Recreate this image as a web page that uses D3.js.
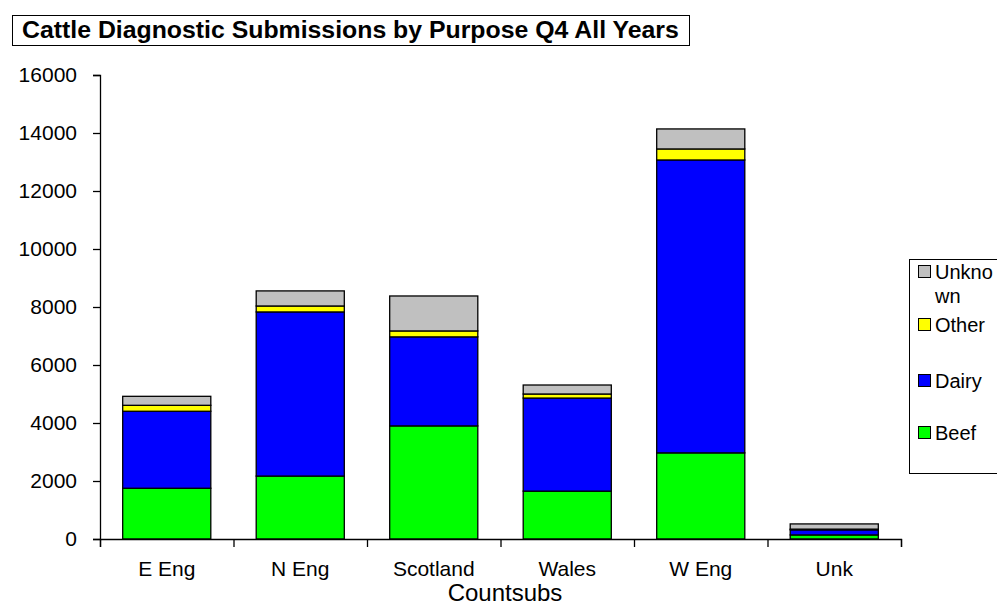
<!DOCTYPE html>
<html>
<head>
<meta charset="utf-8">
<script src="https://cdn.jsdelivr.net/npm/d3@7"></script>
<style>
  body { margin: 0; background: #fff; }
  svg { display: block; font-family: "Liberation Sans", Arial, sans-serif; }
</style>
</head>
<body>
<div id="chart"></div>
<script>
// data
const categories = ["E Eng", "N Eng", "Scotland", "Wales", "W Eng", "Unk"];
const beef    = [1750, 2170, 3900, 1650, 2970, 140];
const dairy   = [2655, 5660, 3070, 3210, 10100, 175];
const other   = [205, 205, 205, 140, 380, 25];
const unknown = [310, 520, 1205, 310, 690, 180];
const seriesNames = ["Beef", "Dairy", "Other", "Unknown"];
const seriesColors = ["#00FF00", "#0000FF", "#FFFF00", "#C0C0C0"];
const yTicks = [0, 2000, 4000, 6000, 8000, 10000, 12000, 14000, 16000];

const W = 997, H = 606;
const margin = { top: 75, right: 96, bottom: 67, left: 100 };
const width = W - margin.left - margin.right;
const height = H - margin.top - margin.bottom;

const svg = d3.select("#chart").append("svg")
    .attr("width", W)
    .attr("height", H);

// title in a box
const titleG = svg.append("g");
const titleText = titleG.append("text")
    .attr("x", 22)
    .attr("y", 38)
    .style("font-weight", "bold")
    .style("font-size", "20px")
    .text("Cattle Diagnostic Submissions by Purpose Q4 All Years");
// fit title to the box width of the original
const tw = titleText.node().getComputedTextLength();
titleText.style("font-size", (20 * 657 / tw) + "px");
titleG.insert("rect", "text")
    .attr("x", 12.5).attr("y", 15.5)
    .attr("width", 677).attr("height", 30)
    .attr("fill", "#fff")
    .attr("stroke", "#000")
    .attr("stroke-width", 1);

const g = svg.append("g")
    .attr("transform", "translate(" + margin.left + "," + margin.top + ")");

// scales
const x = d3.scaleBand()
    .domain(categories)
    .range([0, width])
    .paddingInner(0.34)
    .paddingOuter(0.17);
const xEdge = d3.scaleLinear()
    .domain([0, categories.length])
    .range([0, width]);
const y = d3.scaleLinear()
    .domain([0, 16000])
    .range([height, 0]);

// stacked data
const rows = categories.map((c, i) => ({
    cat: c, Beef: beef[i], Dairy: dairy[i], Other: other[i], Unknown: unknown[i]
}));
const stacked = d3.stack().keys(seriesNames)(rows);

g.selectAll("g.series")
    .data(stacked)
    .enter().append("g")
    .attr("class", "series")
    .attr("fill", (d, i) => seriesColors[i])
    .selectAll("rect")
    .data(d => d)
    .enter().append("rect")
    .attr("x", d => x(d.data.cat))
    .attr("y", d => y(d[1]))
    .attr("width", x.bandwidth())
    .attr("height", d => y(d[0]) - y(d[1]))
    .attr("stroke", "#000")
    .attr("stroke-width", 1.3);

// y axis
const yAxis = g.append("g")
    .call(d3.axisLeft(y).tickValues(yTicks).tickSize(7).tickPadding(16).tickFormat(d3.format("d")));
yAxis.select(".domain").attr("stroke", "#000").attr("stroke-width", 1.3);
yAxis.selectAll(".tick line").attr("stroke", "#000").attr("stroke-width", 1.3);
yAxis.selectAll("text")
    .style("font-size", "21px")
    .style("font-family", "'Liberation Sans', Arial, sans-serif")
    .attr("fill", "#000");

// x axis: boundary ticks
const xAxisEdge = g.append("g")
    .attr("transform", "translate(0," + height + ")")
    .call(d3.axisBottom(xEdge).ticks(categories.length).tickSize(8).tickFormat(""));
xAxisEdge.select(".domain").attr("stroke", "#000").attr("stroke-width", 1.3);
xAxisEdge.selectAll(".tick line").attr("stroke", "#000").attr("stroke-width", 1.3);

// x axis: category labels
const xAxis = g.append("g")
    .attr("transform", "translate(0," + height + ")")
    .call(d3.axisBottom(x).tickSize(0).tickPadding(22));
xAxis.select(".domain").remove();
xAxis.selectAll("text")
    .style("font-size", "21px")
    .style("font-family", "'Liberation Sans', Arial, sans-serif")
    .attr("fill", "#000");

// x axis title
svg.append("text")
    .attr("x", 505)
    .attr("y", 601)
    .attr("text-anchor", "middle")
    .style("font-size", "24px")
    .text("Countsubs");

// legend
const legend = svg.append("g");
legend.append("rect")
    .attr("x", 909.5).attr("y", 259.5)
    .attr("width", 100).attr("height", 214)
    .attr("fill", "#fff")
    .attr("stroke", "#000")
    .attr("stroke-width", 1);

const legendItems = [
    { name: "Unknown", lines: ["Unkno", "wn"], y: 272 },
    { name: "Other", lines: ["Other"], y: 325 },
    { name: "Dairy", lines: ["Dairy"], y: 381 },
    { name: "Beef", lines: ["Beef"], y: 433 }
];
legendItems.forEach(item => {
    const i = seriesNames.indexOf(item.name);
    legend.append("rect")
        .attr("x", 918.5).attr("y", item.y - 6.5)
        .attr("width", 12).attr("height", 12)
        .attr("fill", seriesColors[i])
        .attr("stroke", "#000")
        .attr("stroke-width", 1);
    item.lines.forEach((ln, k) => {
        legend.append("text")
            .attr("x", 935)
            .attr("y", item.y + 7 + k * 24)
            .style("font-size", "20px")
            .text(ln);
    });
});
</script>
</body>
</html>
